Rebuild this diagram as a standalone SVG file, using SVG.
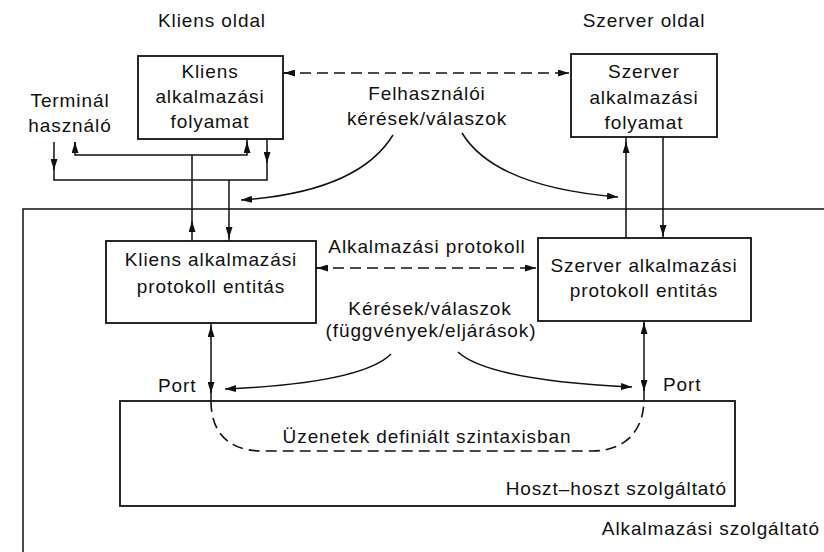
<svg xmlns="http://www.w3.org/2000/svg" width="824" height="552" viewBox="0 0 824 552">
  <defs>
    <style>
      text { font-family: "Liberation Sans", Arial, Helvetica, sans-serif; font-size: 19px; letter-spacing: 0.9px; fill: #111; }
      .c { text-anchor: middle; }
      .e { text-anchor: end; }
      .box { fill: #fff; stroke: #111; stroke-width: 1.8; }
      .ln { fill: none; stroke: #111; stroke-width: 1.5; }
      .dash { fill: none; stroke: #111; stroke-width: 1.6; stroke-dasharray: 11 6; }
      .arr { fill: none; stroke: #111; stroke-width: 1.5; marker-end: url(#ah); }
    </style>
    <marker id="ah" viewBox="0 0 11 7" refX="11" refY="3.5" markerWidth="11" markerHeight="7" markerUnits="userSpaceOnUse" orient="auto">
      <path d="M0,0 L11,3.5 L0,7 z" fill="#111"/>
    </marker>
  </defs>
  <rect width="824" height="552" fill="#fff"/>

  <!-- application service provider frame (open on the right and bottom) -->
  <g id="app-service">
    <path class="ln" d="M23,552 V209 H824"/>
    <text class="e" x="820" y="535">Alkalmazási szolgáltató</text>
  </g>

  <!-- host-to-host service provider -->
  <g id="host-service">
    <rect class="box" x="120" y="401" width="615" height="105"/>
    <text class="e" x="727" y="495">Hoszt–hoszt szolgáltató</text>
  </g>

  <text class="c" x="212" y="27">Kliens oldal</text>
  <text class="c" x="644" y="27">Szerver oldal</text>

  <g id="terminal-user">
    <text class="c" x="70" y="107">Terminál</text>
    <text class="c" x="70" y="132">használó</text>
  </g>

  <g id="client-process">
    <rect class="box" x="138" y="56" width="145" height="83"/>
    <text class="c" x="210" y="78">Kliens</text>
    <text class="c" x="210" y="103">alkalmazási</text>
    <text class="c" x="210" y="128">folyamat</text>
  </g>

  <g id="server-process">
    <rect class="box" x="571" y="54" width="146" height="83"/>
    <text class="c" x="644" y="78">Szerver</text>
    <text class="c" x="644" y="104">alkalmazási</text>
    <text class="c" x="644" y="129">folyamat</text>
  </g>

  <g id="client-entity">
    <rect class="box" x="106" y="241" width="210" height="82"/>
    <text class="c" x="211" y="266">Kliens alkalmazási</text>
    <text class="c" x="211" y="293">protokoll entitás</text>
  </g>

  <g id="server-entity">
    <rect class="box" x="538" y="238" width="213" height="83"/>
    <text class="c" x="644" y="272">Szerver alkalmazási</text>
    <text class="c" x="644" y="297">protokoll entitás</text>
  </g>

  <g id="connectors">
    <!-- client side: entity up to terminal and process -->
    <path class="ln" d="M75,142 V155 H247 V139"/>
    <path class="ln" d="M192,155 V241"/>
    <!-- client side: terminal and process down to entity -->
    <path class="ln" d="M54,142 V180 H267 V139"/>
    <path class="ln" d="M229,180 V241"/>
    <path class="arr" d="M192,226 V221"/>
    <path class="arr" d="M75,147 V142"/>
    <path class="arr" d="M247,147 V142"/>
    <path class="arr" d="M54,165 V170"/>
    <path class="arr" d="M267,158 V163"/>
    <path class="arr" d="M229,233 V238"/>

    <!-- server side -->
    <path class="ln" d="M626,137 V238"/>
    <path class="ln" d="M663,137 V238"/>
    <path class="arr" d="M626,147 V142"/>
    <path class="arr" d="M663,231 V236"/>

    <!-- user requests / responses -->
    <path class="dash" d="M283,73 H571"/>
    <path class="arr" d="M290,73 H284"/>
    <path class="arr" d="M562,73 H569"/>
    <path class="arr" d="M393,135 Q358,192 241,200"/>
    <path class="arr" d="M462,133 Q495,187 618,197"/>

    <!-- application protocol -->
    <path class="dash" d="M316,268 H538"/>
    <path class="arr" d="M323,268 H317"/>
    <path class="arr" d="M530,268 H536"/>

    <!-- requests / responses to the ports -->
    <path class="arr" d="M391,354 Q362,383 225,389"/>
    <path class="arr" d="M458,352 Q488,380 632,387"/>

    <!-- ports -->
    <path class="ln" d="M211,323 V401"/>
    <path class="ln" d="M644,321 V399"/>
    <path class="arr" d="M211,331 V326"/>
    <path class="arr" d="M211,388 V393"/>
    <path class="arr" d="M644,328 V323"/>
    <path class="arr" d="M644,386 V391"/>

    <!-- messages in defined syntax -->
    <path class="dash" d="M211,401 C211,432 228,451 262,451 L592,451 C626,451 644,430 644,399"/>
  </g>

  <text class="c" x="427" y="100">Felhasználói</text>
  <text class="c" x="427" y="125">kérések/válaszok</text>
  <text class="c" x="427" y="253">Alkalmazási protokoll</text>
  <text class="c" x="430" y="315">Kérések/válaszok</text>
  <text class="c" x="431" y="337">(függvények/eljárások)</text>
  <text x="158" y="392">Port</text>
  <text x="663" y="391">Port</text>
  <text class="c" x="427" y="443">Üzenetek definiált szintaxisban</text>
</svg>
